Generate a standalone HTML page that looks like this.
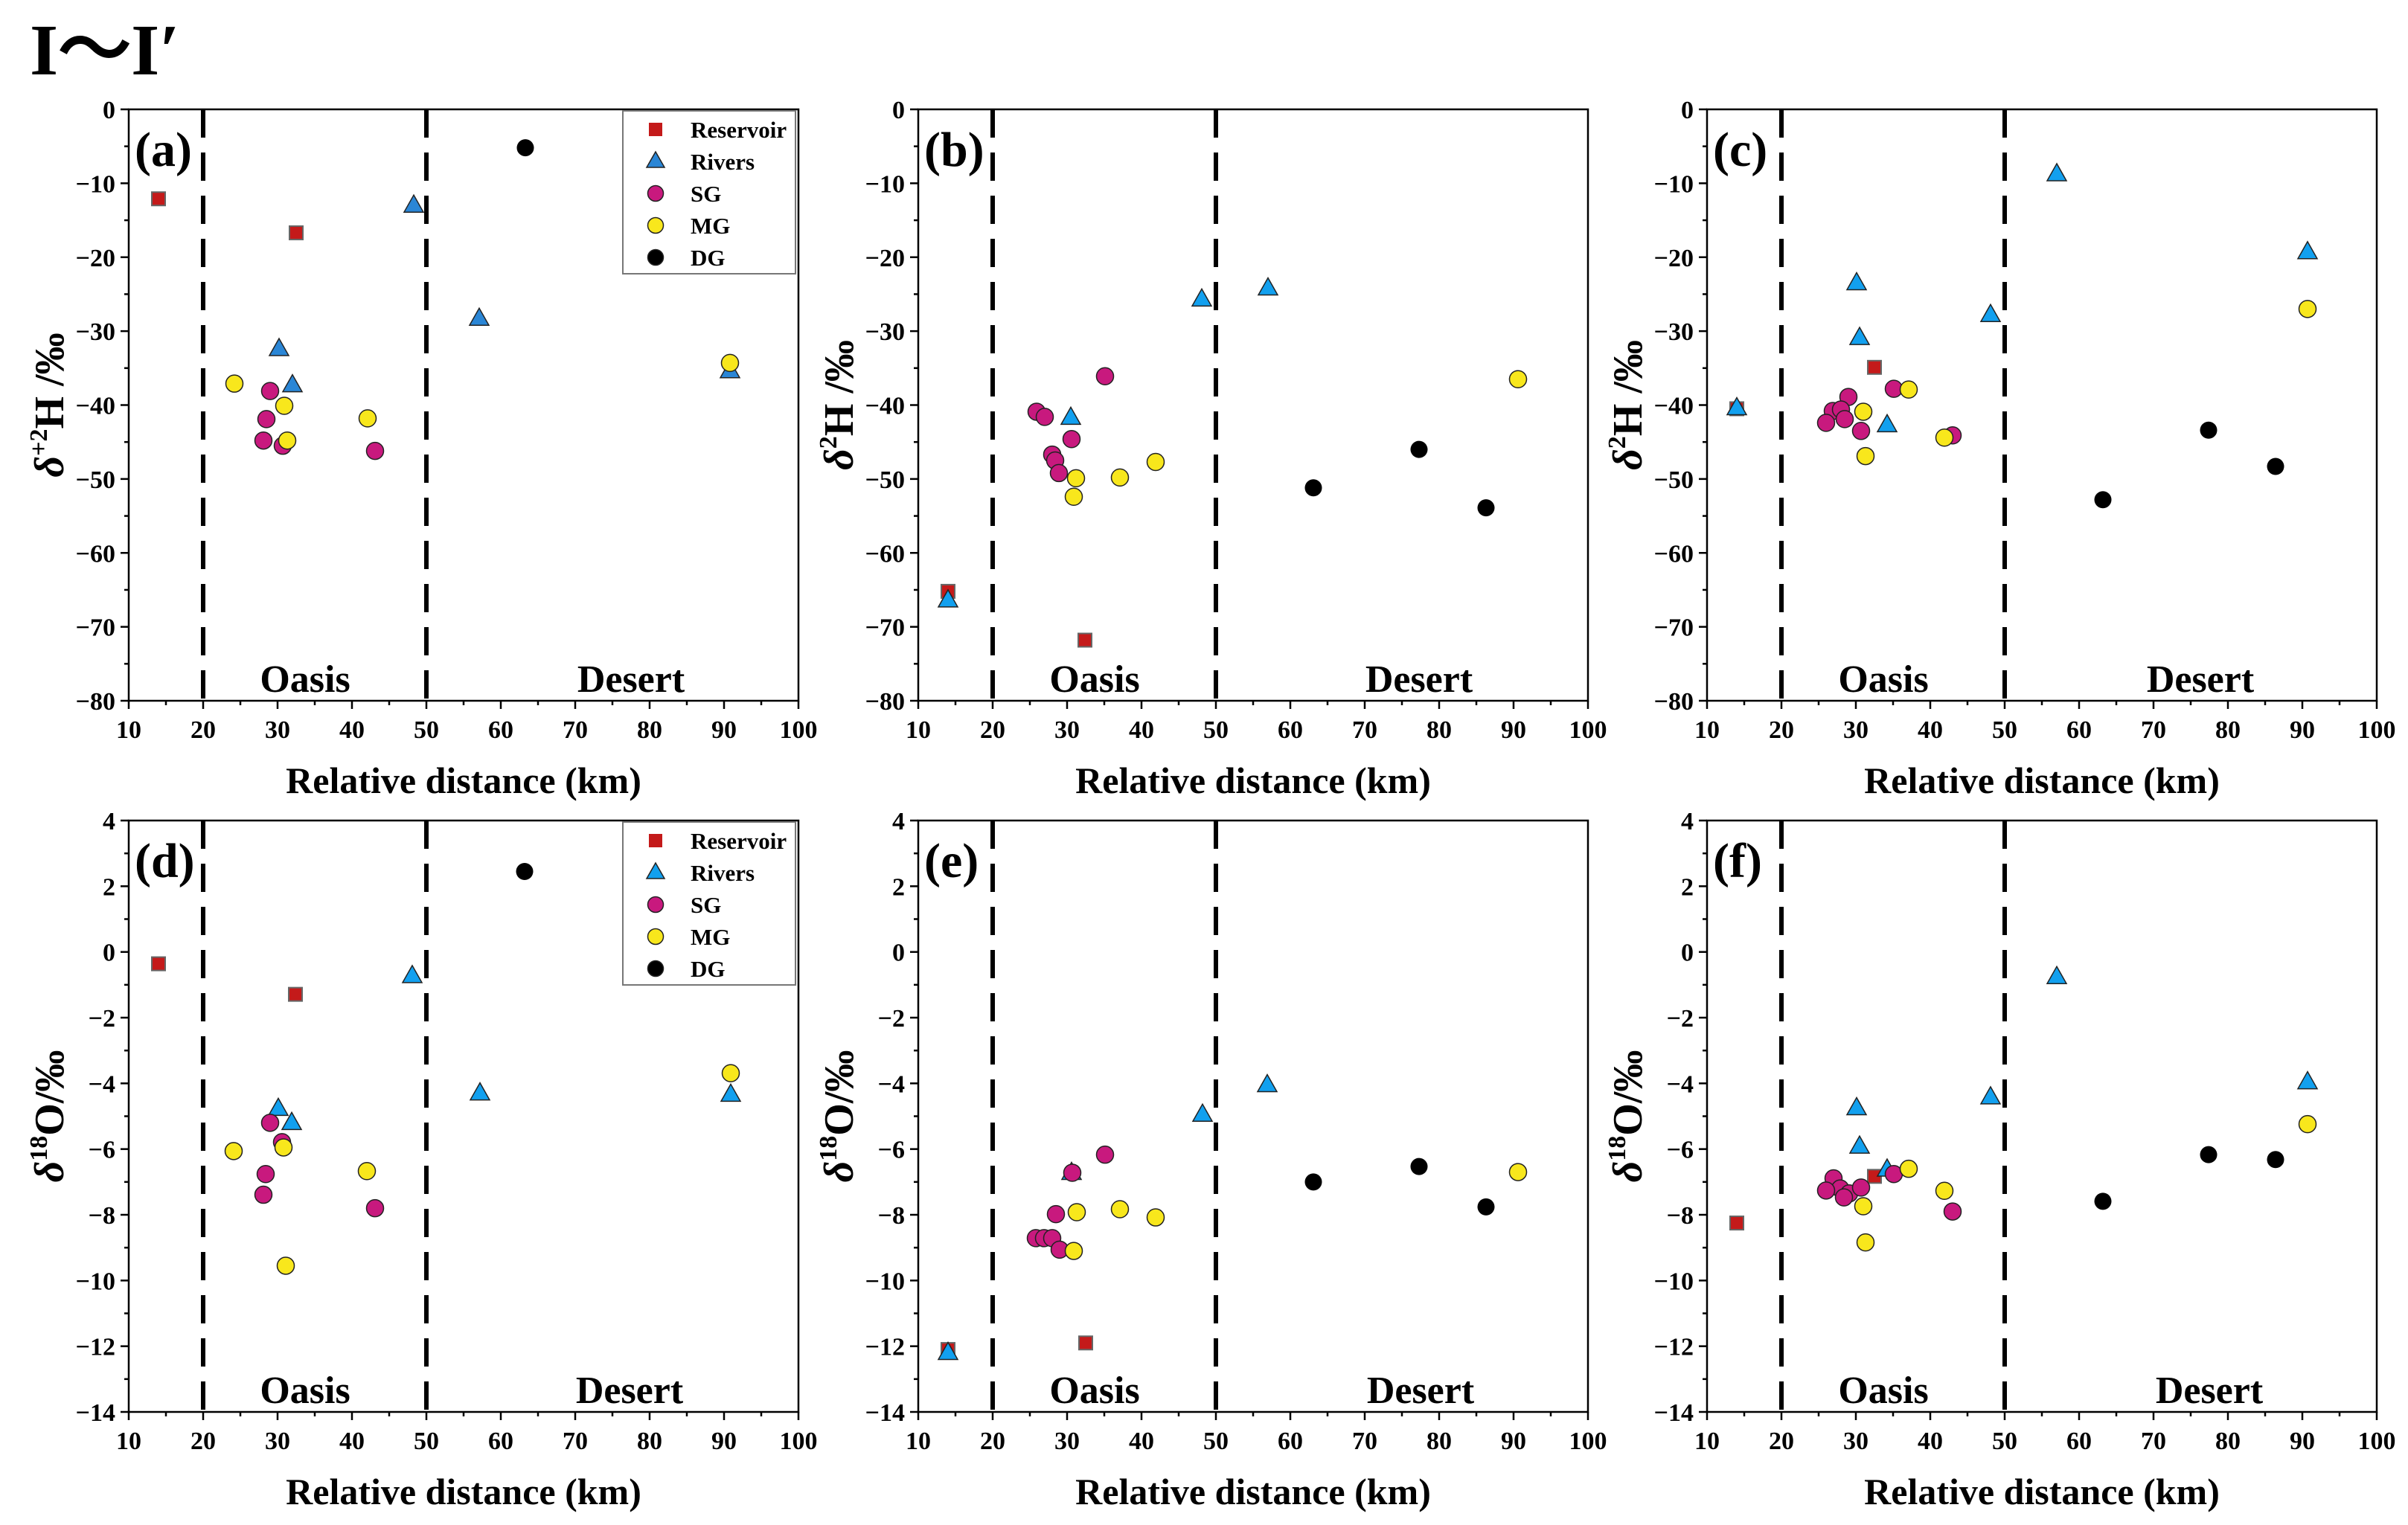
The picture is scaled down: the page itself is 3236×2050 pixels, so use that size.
<!DOCTYPE html>
<html><head><meta charset="utf-8"><style>
html,body{margin:0;padding:0;background:#fff;}
svg{display:block;font-family:"Liberation Serif",serif;font-weight:bold;}
</style></head><body>
<svg id="fig" width="3236" height="2050" viewBox="0 0 3236 2050" xmlns="http://www.w3.org/2000/svg">
<rect width="3236" height="2050" fill="#fff"/>
<text x="40" y="100" font-size="98">I～I′</text>
</svg>
<script>
// ---- data (x: relative distance km, y: isotope value) ----
const aResX=[14.0,32.5], aResY=[-12.1,-16.7];
const aRivX=[48.3,57.1,30.2,32.0,90.8], aRivY=[-13.0,-28.3,-32.4,-37.3,-35.4];
const aSgX=[29.0,28.5,28.1,30.7,43.1], aSgY=[-38.1,-41.9,-44.8,-45.5,-46.2];
const aMgX=[24.2,30.9,31.3,42.1,90.8], aMgY=[-37.1,-40.1,-44.8,-41.8,-34.3];
const aDgX=[63.3], aDgY=[-5.2];

const bResX=[14.0,32.4], bResY=[-65.2,-71.8];
const bRivX=[14.0,48.1,57.0,30.5], bRivY=[-66.4,-25.7,-24.2,-41.7];
const bSgX=[35.1,25.9,27.0,30.6,28.0,28.4,28.9], bSgY=[-36.1,-40.9,-41.6,-44.6,-46.7,-47.5,-49.2];
const bMgX=[90.6,41.9,37.1,31.2,30.9], bMgY=[-36.5,-47.7,-49.8,-49.9,-52.4];
const bDgX=[63.1,77.3,86.3], bDgY=[-51.2,-46.0,-53.9];

const cResX=[14.0,32.5], cResY=[-40.5,-34.9];
const cRivX=[14.0,57.0,90.7,30.1,48.1,30.5,34.2], cRivY=[-40.4,-8.75,-19.3,-23.5,-27.8,-30.9,-42.7];
const cSgX=[29.0,35.1,26.9,28.0,26.0,28.5,30.7,43.0], cSgY=[-38.9,-37.8,-40.8,-40.6,-42.4,-41.9,-43.5,-44.1];
const cMgX=[37.1,31.0,31.3,41.9,90.7], cMgY=[-37.9,-40.9,-46.9,-44.4,-27.0];
const cDgX=[63.2,77.4,86.4], cDgY=[-52.8,-43.4,-48.3];

const dResX=[14.0,32.4], dResY=[-0.36,-1.29];
const dRivX=[48.1,57.2,30.1,31.9,90.9], dRivY=[-0.73,-4.3,-4.77,-5.2,-4.34];
const dSgX=[29.0,30.6,28.4,28.1,43.1], dSgY=[-5.2,-5.79,-6.76,-7.39,-7.8];
const dMgX=[24.1,30.8,31.1,42.0,90.9], dMgY=[-6.06,-5.95,-9.55,-6.67,-3.69];
const dDgX=[63.2], dDgY=[2.45];

const eResX=[14.0,32.5], eResY=[-12.1,-11.9];
const eRivX=[14.0,48.2,56.9,30.6], eRivY=[-12.2,-4.95,-4.05,-6.72];
const eSgX=[35.1,30.7,28.5,25.8,26.9,28.0,29.0], eSgY=[-6.17,-6.72,-7.98,-8.71,-8.71,-8.71,-9.06];
const eMgX=[90.6,37.1,41.9,31.3,30.9], eMgY=[-6.7,-7.83,-8.08,-7.92,-9.1];
const eDgX=[63.1,77.3,86.3], eDgY=[-7.0,-6.53,-7.76];

const fResX=[14.0,32.5], fResY=[-8.25,-6.83];
const fRivX=[57.0,90.7,30.1,48.1,30.5,34.2], fRivY=[-0.76,-3.96,-4.75,-4.42,-5.92,-6.62];
const fSgX=[27.0,35.1,27.9,26.0,29.1,28.4,30.7,43.0], fSgY=[-6.89,-6.76,-7.2,-7.26,-7.35,-7.47,-7.17,-7.9];
const fMgX=[37.1,41.9,31.0,31.3,90.7], fMgY=[-6.6,-7.27,-7.74,-8.84,-5.24];
const fDgX=[63.2,77.4,86.4], fDgY=[-7.59,-6.17,-6.32];

const xTicks=[10,20,30,40,50,60,70,80,90,100];
const hTicks=[0,-10,-20,-30,-40,-50,-60,-70,-80];
const oTicks=[4,2,0,-2,-4,-6,-8,-10,-12,-14];
const legendLabels=['Reservoir','Rivers','SG','MG','DG'];

const NS='http://www.w3.org/2000/svg';
const svg=document.getElementById('fig');
function mk(tag,attrs,parent){const e=document.createElementNS(NS,tag);for(const k in attrs)e.setAttribute(k,attrs[k]);(parent||svg).appendChild(e);return e;}

const COL={res:'#c41a1a',riv:'#12a0ef',sg:'#c8197e',mg:'#f8e71c',dg:'#000'};

function marker(type,cx,cy,g,rivCol){
  let e;
  if(type==='res'){e=mk('rect',{x:cx-9,y:cy-9,width:18,height:18,fill:COL.res,stroke:'#666','stroke-width':2},g);}
  else if(type==='riv'){e=mk('polygon',{points:`${cx},${cy-14} ${cx-13},${cy+9} ${cx+13},${cy+9}`,fill:rivCol||COL.riv,stroke:'#222','stroke-width':1.5},g);}
  else if(type==='dg'){e=mk('circle',{cx:cx,cy:cy,r:11.5,fill:'#000'},g);}
  else {e=mk('circle',{cx:cx,cy:cy,r:11.5,fill:COL[type],stroke:'#222','stroke-width':1.5},g);}
  return e;
}

function panel(opt){
  const L=opt.left,T=opt.top,W=900,H=795;
  const g=mk('g',{});
  
  
  const sx=v=>L+(v-10)/90*W;
  const sy=v=>T+(opt.ymax-v)/(opt.ymax-opt.ymin)*H;
  [20,50].forEach(v=>{
    const l=mk('line',{x1:sx(v),x2:sx(v),y1:T,y2:T+H,stroke:'#000','stroke-width':6,'stroke-dasharray':'38 20'},g);
    
    
  });
  xTicks.forEach(v=>{
    mk('line',{x1:sx(v),x2:sx(v),y1:T+H,y2:T+H+11,stroke:'#000','stroke-width':2.5},g);
    if(v<100) mk('line',{x1:sx(v+5),x2:sx(v+5),y1:T+H,y2:T+H+6,stroke:'#000','stroke-width':2.5},g);
    const t=mk('text',{x:sx(v),y:T+H+50,'font-size':34,'text-anchor':'middle'},g);
    t.textContent=v;
    
    
  });
  const yt=opt.ticks;
  yt.forEach((v,i)=>{
    mk('line',{x1:L-11,x2:L,y1:sy(v),y2:sy(v),stroke:'#000','stroke-width':2.5},g);
    if(i<yt.length-1){const m=(v+yt[i+1])/2;mk('line',{x1:L-6,x2:L,y1:sy(m),y2:sy(m),stroke:'#000','stroke-width':2.5},g);}
    const t=mk('text',{x:L-18,y:sy(v)+12,'font-size':34,'text-anchor':'end'},g);
    t.textContent=v<0?'\u2212'+(-v):String(v);
    
    
  });
  const fr=mk('rect',{x:L,y:T,width:W,height:H,fill:'none',stroke:'#000','stroke-width':2.5},g);
  
  
  const pl=mk('text',{x:L+8,y:T+76,'font-size':66},g);
  pl.textContent='('+opt.letter+')';
  
  
  const oa=mk('text',{x:sx(33.7),y:T+H-12,'font-size':52,'text-anchor':'middle'},g);
  oa.textContent='Oasis';
  
  
  const de=mk('text',{x:sx(opt.desertX),y:T+H-12,'font-size':52,'text-anchor':'middle'},g);
  de.textContent='Desert';
  
  
  const xl=mk('text',{x:L+W/2,y:T+H+124,'font-size':50,'text-anchor':'middle'},g);
  xl.textContent='Relative distance (km)';
  
  
  const yl=mk('text',{x:0,y:0,'font-size':56,'text-anchor':'middle',transform:`translate(${L-88},${T+H/2}) rotate(-90)`},g);
  yl.innerHTML=opt.ylabel;
  
  
  const series=[['res',opt.res],['riv',opt.riv],['sg',opt.sg],['mg',opt.mg],['dg',opt.dg]];
  series.forEach(([type,[xs,ys]])=>{
    xs.forEach((x,i)=>{
      const m=marker(type,sx(x),sy(ys[i]),g,opt.rivCol);
      
      
    });
  });
  if(opt.legend){
    const lg=mk('g',{},g);
    
    
    mk('rect',{x:L+664,y:T+2,width:232,height:219,fill:'#fff',stroke:'#777','stroke-width':2},lg);
    ['res','riv','sg','mg','dg'].forEach((type,i)=>{
      const cy=T+27+i*43;
      const ent=mk('g',{},lg);
      
      
      if(type==='res') mk('rect',{x:L+699,y:cy-9,width:18,height:18,fill:COL.res},ent);
      else if(type==='riv') mk('polygon',{points:`${L+708},${cy-13} ${L+696},${cy+8} ${L+720},${cy+8}`,fill:opt.rivCol||COL.riv,stroke:'#222','stroke-width':1.5},ent);
      else mk('circle',{cx:L+708,cy:cy,r:10.5,fill:COL[type],stroke:'#222','stroke-width':1.5},ent);
      const t=mk('text',{x:L+755,y:cy+11,'font-size':31},ent);
      t.textContent=legendLabels[i];
    });
  }
}
const hLabel='<tspan font-style="italic">δ</tspan><tspan font-size="34" dy="-22">2</tspan><tspan dy="22">H /‰</tspan>';
const oLabel='<tspan font-style="italic">δ</tspan><tspan font-size="34" dy="-22">18</tspan><tspan dy="22">O/‰</tspan>';
const aLabel='<tspan font-style="italic">δ</tspan><tspan font-size="34" dy="-22">+2</tspan><tspan dy="22">H /‰</tspan>';
panel({letter:'a',left:173,top:147,ymax:0,ymin:-80,ticks:hTicks,ylabel:aLabel,legend:true,rivCol:'#2a86d6',desertX:77.5,res:[aResX,aResY],riv:[aRivX,aRivY],sg:[aSgX,aSgY],mg:[aMgX,aMgY],dg:[aDgX,aDgY]});
panel({letter:'b',left:1234,top:147,ymax:0,ymin:-80,ticks:hTicks,ylabel:hLabel,desertX:77.3,res:[bResX,bResY],riv:[bRivX,bRivY],sg:[bSgX,bSgY],mg:[bMgX,bMgY],dg:[bDgX,bDgY]});
panel({letter:'c',left:2294,top:147,ymax:0,ymin:-80,ticks:hTicks,ylabel:hLabel,desertX:76.3,res:[cResX,cResY],riv:[cRivX,cRivY],sg:[cSgX,cSgY],mg:[cMgX,cMgY],dg:[cDgX,cDgY]});
panel({letter:'d',left:173,top:1103,ymax:4,ymin:-14,ticks:oTicks,ylabel:oLabel,legend:true,desertX:77.3,res:[dResX,dResY],riv:[dRivX,dRivY],sg:[dSgX,dSgY],mg:[dMgX,dMgY],dg:[dDgX,dDgY]});
panel({letter:'e',left:1234,top:1103,ymax:4,ymin:-14,ticks:oTicks,ylabel:oLabel,desertX:77.5,res:[eResX,eResY],riv:[eRivX,eRivY],sg:[eSgX,eSgY],mg:[eMgX,eMgY],dg:[eDgX,eDgY]});
panel({letter:'f',left:2294,top:1103,ymax:4,ymin:-14,ticks:oTicks,ylabel:oLabel,desertX:77.5,res:[fResX,fResY],riv:[fRivX,fRivY],sg:[fSgX,fSgY],mg:[fMgX,fMgY],dg:[fDgX,fDgY]});
</script>
</body></html>
